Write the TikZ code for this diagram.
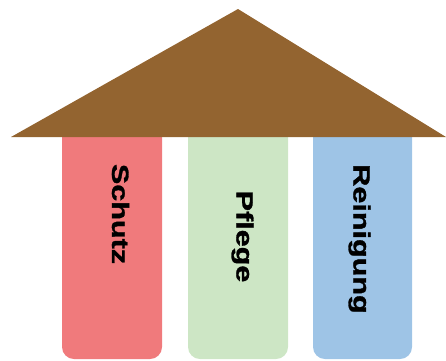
\documentclass[tikz,border=0pt]{standalone}
\usepackage{fontspec}
\setsansfont{Liberation Sans}
\newfontfamily\pillarfont[FakeBold=1.2]{Liberation Sans Bold}
\usepackage{tikz}
\usetikzlibrary{positioning, calc}
\definecolor{roofbrown}{RGB}{147,100,48}
\definecolor{schutzred}{RGB}{240,122,124}
\definecolor{pflegegreen}{RGB}{205,230,197}
\definecolor{reinblue}{RGB}{158,196,230}

\begin{document}
\begin{tikzpicture}[
  x=1pt, y=-1pt,
  roof/.style={fill=roofbrown, draw=none},
  pillar/.style={draw=none, rounded corners=12pt},
  pillartext/.style={rotate=-90, inner sep=0pt, text=black,
                     font=\pillarfont\fontsize{23.5}{28}\selectfont},
]
  \useasboundingbox (0,0) rectangle (446,360);

  % pillars
  \fill[pillar, schutzred]   (62,120) [rounded corners=12pt] -- (62,359) -- (162,359) [sharp corners] -- (162,120) -- cycle;
  \fill[pillar, pflegegreen] (188,120) [rounded corners=12pt] -- (188,359) -- (288,359) [sharp corners] -- (288,120) -- cycle;
  \fill[pillar, reinblue]    (313,120) [rounded corners=12pt] -- (313,359) -- (412,359) [sharp corners] -- (412,120) -- cycle;

  % roof
  \coordinate (apex) at (238,9);
  \coordinate (eaveL) at (11,137);
  \coordinate (eaveR) at (446,137);
  \fill[roof] (eaveL) -- (apex) -- (eaveR) -- cycle;

  % labels
  \node[pillartext] (schutz) at (120.5,214) {\scalebox{1.3}[1]{Schutz}};
  \node[pillartext] (pflege) at (242.5,236.5) {\scalebox{1.3}[1]{Pflege}};
  \node[pillartext] (reinigung) at (359.5,239) {\scalebox{1.3}[1]{Reinigung}};
\end{tikzpicture}
\end{document}
